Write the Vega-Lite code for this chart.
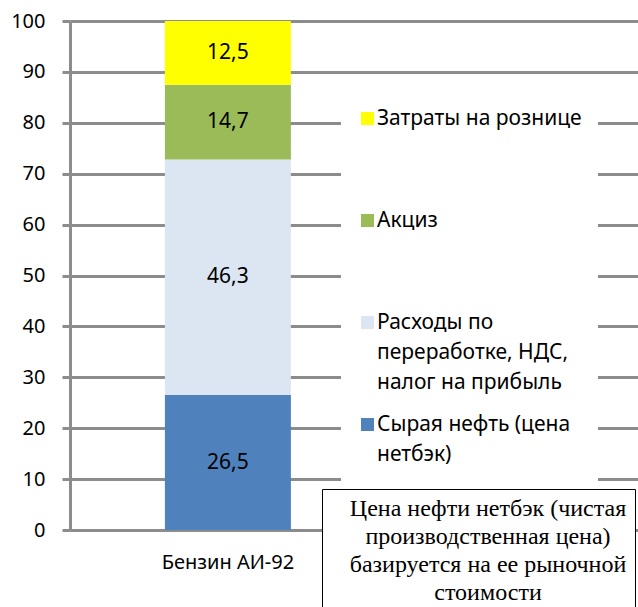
{
  "$schema": "https://vega.github.io/schema/vega-lite/v6.json",
  "width": 568,
  "height": 509,
  "autosize": "none",
  "padding": {"left": 70, "top": 21, "right": 0, "bottom": 77},
  "background": "white",
  "config": {
    "locale": {"number": {"decimal": ",", "thousands": "\u00a0", "grouping": [3], "currency": ["", ""]}},
    "font": "Noto Sans",
    "view": {"stroke": null},
    "axis": {
      "title": null,
      "labelFont": "Noto Sans",
      "labelFontSize": 20,
      "labelColor": "#000000",
      "domainColor": "#8c8c8c",
      "domainWidth": 3,
      "tickColor": "#8c8c8c",
      "tickWidth": 3,
      "gridColor": "#8c8c8c",
      "gridWidth": 3
    }
  },
  "layer": [
    {
      "data": {
        "values": [
          {"product": "Бензин АИ-92", "category": "Сырая нефть (цена нетбэк)", "value": 26.5, "ord": 1},
          {"product": "Бензин АИ-92", "category": "Расходы по переработке, НДС, налог на прибыль", "value": 46.3, "ord": 2},
          {"product": "Бензин АИ-92", "category": "Акциз", "value": 14.7, "ord": 3},
          {"product": "Бензин АИ-92", "category": "Затраты на рознице", "value": 12.5, "ord": 4}
        ]
      },
      "encoding": {
        "x": {
          "field": "product",
          "type": "nominal",
          "scale": {"paddingInner": 0, "paddingOuter": 1, "align": 0.167},
          "axis": {"labelAngle": 0, "ticks": false, "labelPadding": 22, "grid": false}
        }
      },
      "layer": [
        {
          "mark": {"type": "bar", "width": 126},
          "encoding": {
            "y": {
              "field": "value",
              "type": "quantitative",
              "stack": "zero",
              "scale": {"domain": [0, 100], "nice": false},
              "axis": {"values": [0, 10, 20, 30, 40, 50, 60, 70, 80, 90, 100], "grid": true, "tickSize": 8, "labelPadding": 17}
            },
            "color": {
              "field": "category",
              "type": "nominal",
              "scale": {
                "domain": ["Затраты на рознице", "Акциз", "Расходы по переработке, НДС, налог на прибыль", "Сырая нефть (цена нетбэк)"],
                "range": ["#ffff00", "#9bbb59", "#dce6f2", "#4f81bd"]
              },
              "legend": {
                "orient": "none",
                "legendX": 271,
                "legendY": 71,
                "title": null,
                "fillColor": "white",
                "padding": 16,
                "symbolType": "square",
                "symbolSize": 169,
                "symbolStrokeWidth": 0,
                "labelFont": "Noto Sans",
                "labelFontSize": 21,
                "labelColor": "#000000",
                "labelOffset": -1,
                "labelLimit": 600,
                "rowPadding": 20,
                "labelExpr": "datum.label == 'Акциз' ? ['Акциз', '', ''] : datum.label == 'Затраты на рознице' ? ['Затраты на рознице\u00a0\u00a0\u00a0\u00a0\u00a0\u00a0\u00a0\u00a0\u00a0', '', ''] : datum.label == 'Сырая нефть (цена нетбэк)' ? ['Сырая нефть (цена', 'нетбэк)'] : ['Расходы по', 'переработке, НДС,', 'налог на прибыль']",
                "encode": {"labels": {"update": {"lineHeight": {"value": 30}}}}
              }
            },
            "order": {"field": "ord", "type": "quantitative"}
          }
        },
        {
          "mark": {"type": "text", "fontSize": 21, "color": "#000000", "font": "Noto Sans"},
          "encoding": {
            "y": {"field": "value", "type": "quantitative", "stack": "zero", "bandPosition": 0.5},
            "detail": {"field": "category", "type": "nominal"},
            "order": {"field": "ord", "type": "quantitative"},
            "text": {"field": "value", "type": "quantitative", "format": ".1f"}
          }
        }
      ]
    },
    {
      "data": {
        "values": [
          {"line": "Цена нефти нетбэк (чистая"},
          {"line": "производственная цена)"},
          {"line": "базируется на ее рыночной"},
          {"line": "стоимости"}
        ]
      },
      "mark": {"type": "point", "opacity": 0},
      "encoding": {
        "shape": {
          "field": "line",
          "type": "nominal",
          "sort": null,
          "legend": {
            "orient": "none",
            "legendX": 252,
            "legendY": 468,
            "title": null,
            "fillColor": "white",
            "strokeColor": "black",
            "padding": 8,
            "symbolSize": 0,
            "symbolOpacity": 0,
            "symbolStrokeWidth": 0,
            "labelFont": "Liberation Serif",
            "labelFontSize": 24,
            "labelColor": "#000000",
            "labelAlign": "center",
            "labelOffset": 134,
            "labelLimit": 600,
            "rowPadding": 4,
            "labelExpr": "'\u00a0\u00a0' + datum.label + '\u00a0\u00a0'",
            "encode": {"legend": {"update": {"strokeWidth": {"value": 1.5}}}}
          }
        }
      }
    }
  ]
}
